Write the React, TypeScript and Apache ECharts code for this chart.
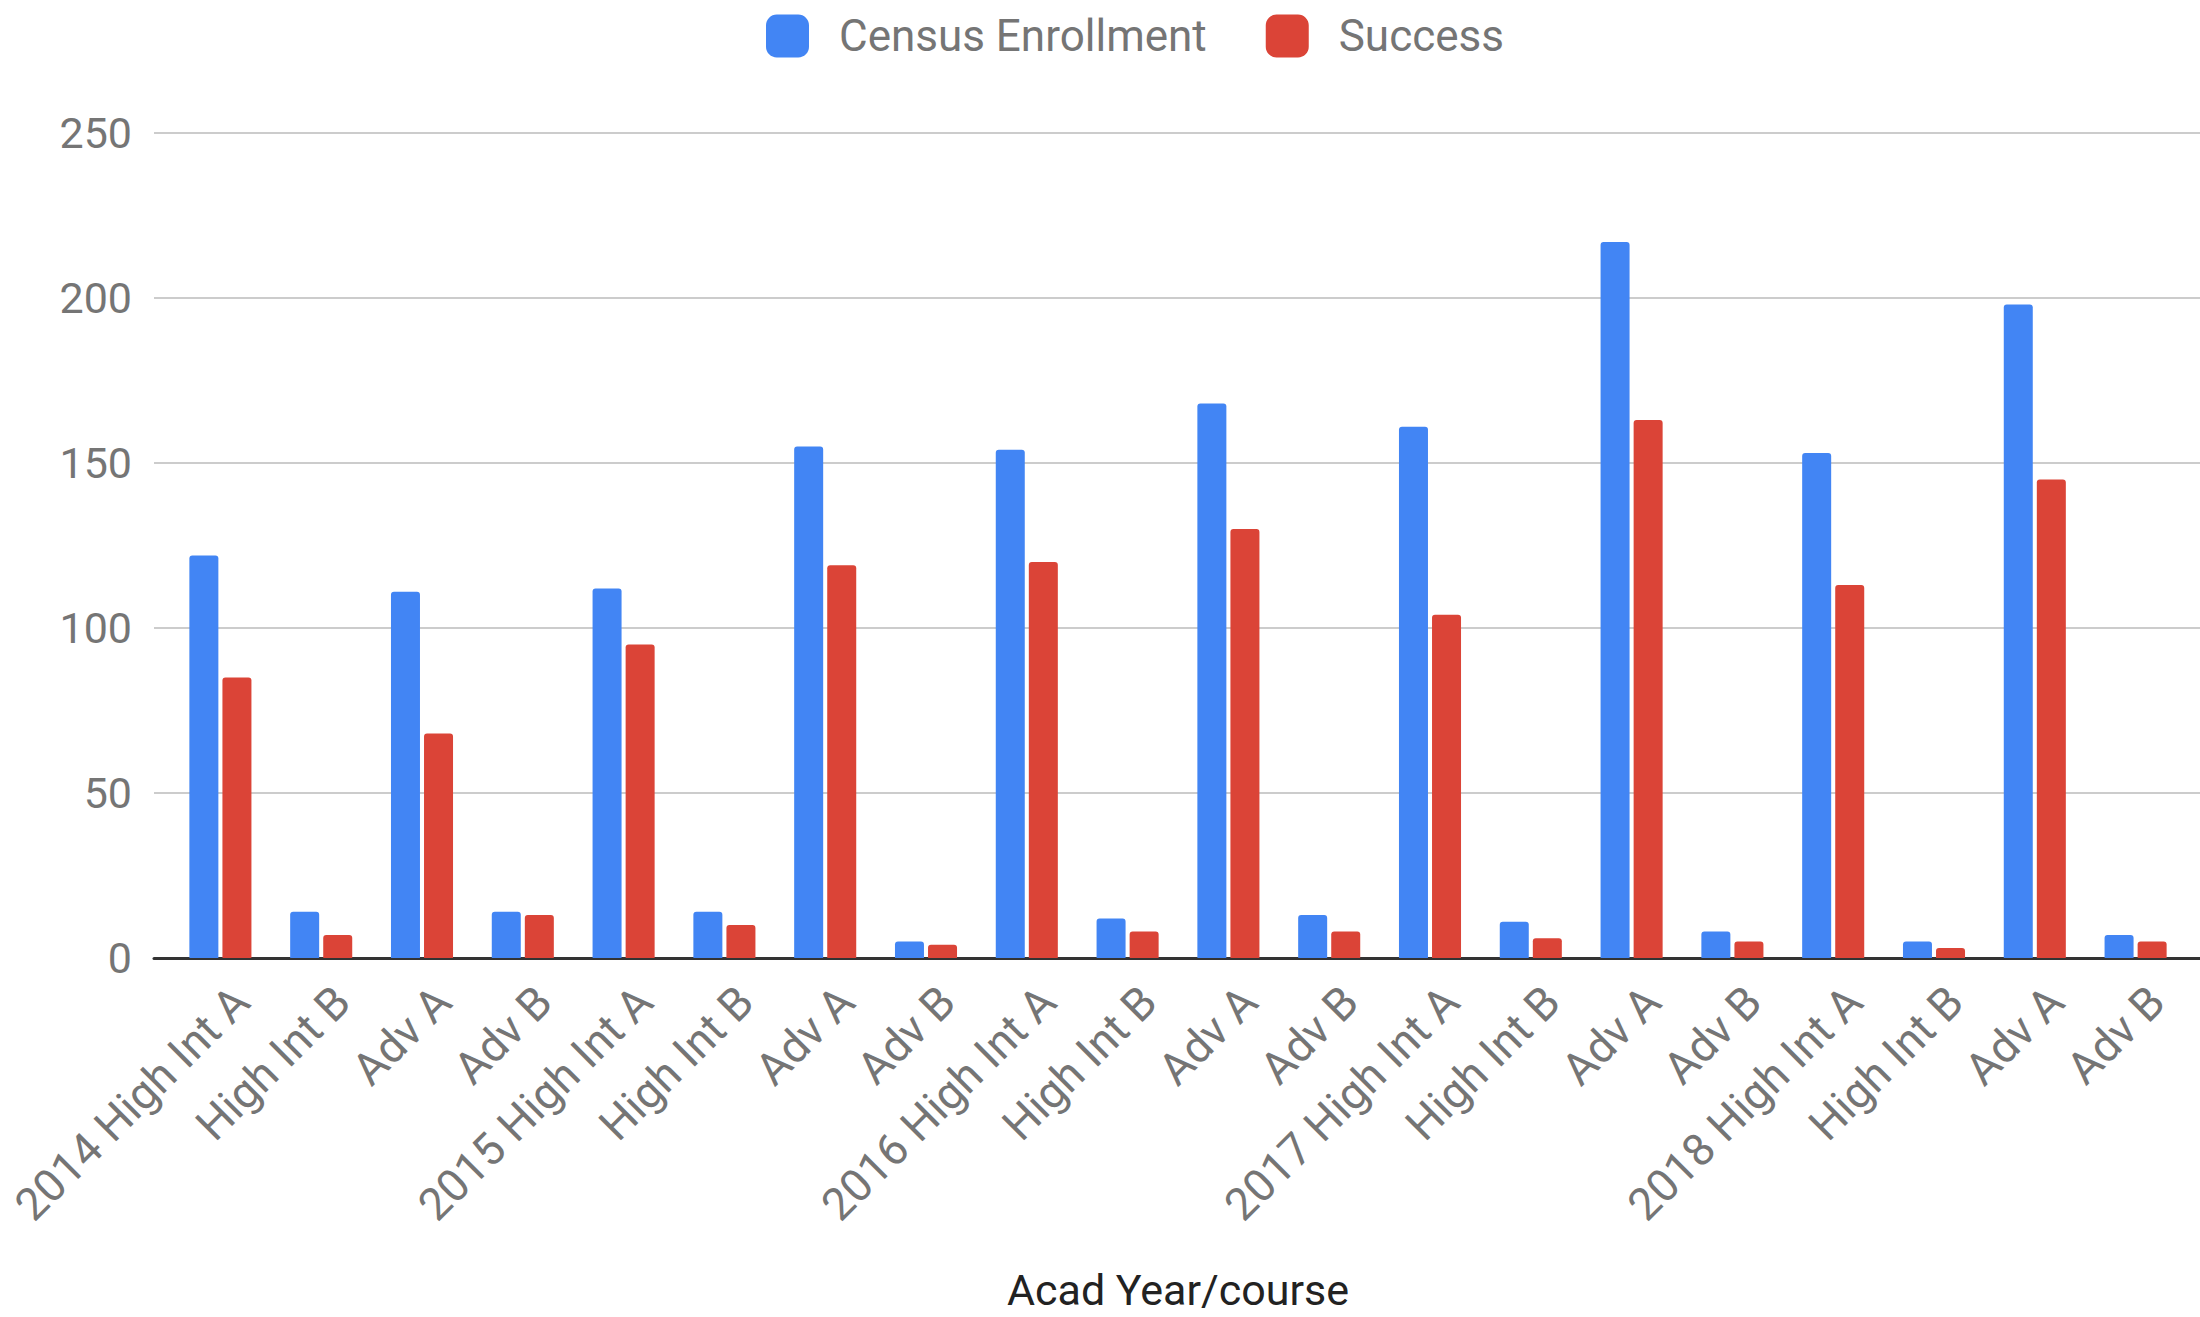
import React, { useEffect, useRef } from "react";
import * as echarts from "echarts";

// Courses per academic year, in display order
const categories: string[] = [
  "2014 High Int A", "High Int B", "Adv A", "Adv B",
  "2015 High Int A", "High Int B", "Adv A", "Adv B",
  "2016 High Int A", "High Int B", "Adv A", "Adv B",
  "2017 High Int A", "High Int B", "Adv A", "Adv B",
  "2018 High Int A", "High Int B", "Adv A", "Adv B",
];

const censusEnrollment: number[] = [
  122, 14, 111, 14,
  112, 14, 155, 5,
  154, 12, 168, 13,
  161, 11, 217, 8,
  153, 5, 198, 7,
];

const success: number[] = [
  85, 7, 68, 13,
  95, 10, 119, 4,
  120, 8, 130, 8,
  104, 6, 163, 5,
  113, 3, 145, 5,
];

const seriesNames = ["Census Enrollment", "Success"];
const yMin = 0;
const yMax = 250;
const yStep = 50;

const BLUE = "#4285F4";
const RED = "#DB4437";
const FONT = "Roboto";

export default function App() {
  const ref = useRef<HTMLDivElement>(null);

  useEffect(() => {
    document.body.style.margin = "0";
    if (!ref.current) return;
    const chart = echarts.init(ref.current, undefined, { renderer: "svg" });

    const top = 133;
    const bottom = 1317 - 958;
    const gridBase = { top, bottom, containLabel: false, outerBoundsMode: "none" };

    chart.setOption({
      animation: false,
      backgroundColor: "#ffffff",
      textStyle: { fontFamily: FONT },
      legend: {
        left: 761,
        top: 9,
        itemWidth: 43,
        itemHeight: 43,
        itemGap: 59,
        icon: "roundRect",
        data: seriesNames,
        textStyle: {
          fontFamily: FONT,
          fontSize: 44,
          color: "#757575",
          padding: [0, 0, 0, 25],
        },
      },
      grid: [
        // bars
        { ...gridBase, left: 170, right: 14 },
        // gridlines, value labels and baseline spanning the full width
        { ...gridBase, left: 154, right: 0 },
        // slanted category labels, set slightly to the right of each bar pair
        { ...gridBase, left: 191, right: -7 },
      ],
      xAxis: [
        {
          type: "category",
          gridIndex: 0,
          data: categories,
          axisLine: { show: false },
          axisTick: { show: false },
          axisLabel: { show: false },
          name: "Acad Year/course",
          nameLocation: "middle",
          nameGap: 311,
          nameTextStyle: { fontFamily: FONT, fontSize: 43, lineHeight: 42, color: "#222222" },
        },
        {
          type: "value",
          gridIndex: 1,
          min: 0,
          max: 1,
          axisLine: { show: true, onZero: false, lineStyle: { color: "#333333", width: 3 } },
          axisTick: { show: false },
          axisLabel: { show: false },
          splitLine: { show: false },
        },
        {
          type: "category",
          gridIndex: 2,
          data: categories,
          axisLine: { show: false },
          axisTick: { show: false },
          splitLine: { show: false },
          axisLabel: {
            rotate: 45,
            interval: 0,
            margin: 36,
            fontFamily: FONT,
            fontSize: 45,
            color: "#757575",
          },
        },
      ],
      yAxis: [
        {
          type: "value",
          gridIndex: 0,
          min: yMin,
          max: yMax,
          interval: yStep,
          axisLine: { show: false },
          axisTick: { show: false },
          axisLabel: { show: false },
          splitLine: { show: false },
        },
        {
          type: "value",
          gridIndex: 1,
          min: yMin,
          max: yMax,
          interval: yStep,
          axisLine: { show: false },
          axisTick: { show: false },
          axisLabel: {
            margin: 22,
            fontFamily: FONT,
            fontSize: 43,
            color: "#757575",
          },
          splitLine: { show: true, lineStyle: { color: "#cccccc", width: 2 } },
        },
        {
          type: "value",
          gridIndex: 2,
          min: yMin,
          max: yMax,
          interval: yStep,
          show: false,
        },
      ],
      series: [
        {
          name: seriesNames[0],
          type: "bar",
          xAxisIndex: 0,
          yAxisIndex: 0,
          data: censusEnrollment,
          barWidth: 29,
          barGap: "14%",
          z: 5,
          itemStyle: { color: BLUE, borderRadius: [3, 3, 0, 0] },
        },
        {
          name: seriesNames[1],
          type: "bar",
          xAxisIndex: 0,
          yAxisIndex: 0,
          data: success,
          barWidth: 29,
          z: 5,
          itemStyle: { color: RED, borderRadius: [3, 3, 0, 0] },
        },
      ],
    });

    return () => chart.dispose();
  }, []);

  return <div ref={ref} style={{ width: 2200, height: 1317 }} />;
}
